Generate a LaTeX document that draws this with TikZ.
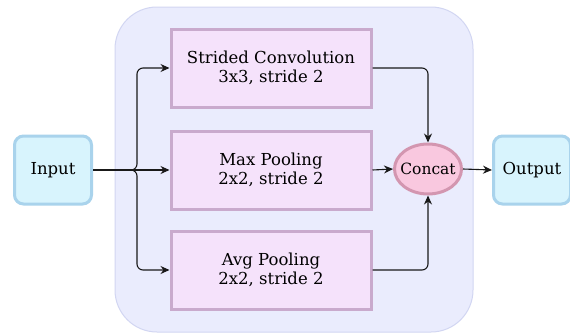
\documentclass[tikz,border=0pt]{standalone}
\usepackage{fontspec}
\setmainfont{DejaVu Serif}
\usetikzlibrary{arrows.meta,shapes.geometric}
\definecolor{bgfill}{HTML}{EAECFD}
\definecolor{bgdraw}{HTML}{D2D6F2}
\definecolor{opfill}{HTML}{F5E2FB}
\definecolor{opdraw}{HTML}{C9AACD}
\definecolor{iofill}{HTML}{D8F4FD}
\definecolor{iodraw}{HTML}{A9D3EC}
\definecolor{catfill}{HTML}{F9C8DF}
\definecolor{catdraw}{HTML}{D396B0}
\tikzset{
  lbl/.style={font=\fontsize{16.5}{19.5}\selectfont},
  opbox/.style={lbl, draw=opdraw, fill=opfill, line width=3pt, minimum width=200pt, minimum height=78pt, align=center},
  iobox/.style={lbl, draw=iodraw, fill=iofill, line width=3pt, rounded corners=9pt, minimum width=77pt, minimum height=68pt},
  catnode/.style={ellipse, draw=catdraw, fill=catfill, line width=3pt, minimum width=67pt, minimum height=50pt, inner sep=0pt},
  catlbl/.style={font=\fontsize{15.5}{18}\selectfont},
  conn/.style={draw=black!90, line width=1.1pt, rounded corners=6pt, -{Stealth[length=9pt,width=8pt]}}
}
\begin{document}
\begin{tikzpicture}[x=1pt,y=-1pt]
\useasboundingbox (0,0) rectangle (570,333);
\fill[white] (0,0) rectangle (570,333);
\draw[draw=bgdraw, fill=bgfill, line width=1pt, rounded corners=42pt] (115,7) rectangle (473,332);
\node[iobox] (in) at (53,170) {Input};
\node[iobox] (out) at (532,170) {Output};
\node[opbox] (sc) at (271,68) {Strided Convolution\\3x3, stride 2};
\node[opbox] (mp) at (271,170) {Max Pooling\\2x2, stride 2};
\node[opbox] (ap) at (271,270) {Avg Pooling\\2x2, stride 2};
\node[catnode] (cat) at (428,169) {};
\node[catlbl] (catt) at (cat.center) {Concat};
\coordinate (split) at (137,170);
\draw[conn] (in.east) -- (split) |- (sc.west);
\draw[conn] (in.east) -- (split) |- (ap.west);
\draw[conn] (in.east) -- (mp.west);
\draw[conn] (sc.east) -| (cat.north);
\draw[conn] (ap.east) -| (cat.south);
\draw[conn] (mp.east) -- (cat.west);
\draw[conn] (cat.east) -- (out.west);
\end{tikzpicture}
\end{document}
